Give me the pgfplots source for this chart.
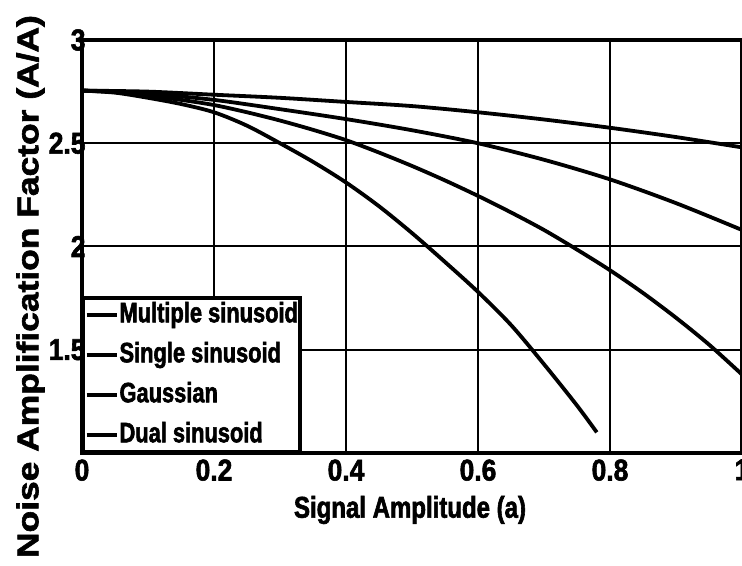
\documentclass[border=0pt]{standalone}
\usepackage{fontspec}
\usepackage{pgfplots}
\pgfplotsset{compat=1.18}
\setmainfont{Liberation Sans}
\newfontfamily\tickfont{Liberation Sans}[FakeStretch=0.88, FakeBold=2]
\newfontfamily\legfont{Liberation Sans}[FakeStretch=0.78, FakeBold=2]
\newfontfamily\xlabfont{Liberation Sans}[FakeStretch=0.8, FakeBold=2]
\newfontfamily\ylabfont{Liberation Sans}[FakeStretch=1.18, FakeBold=2]
\begin{document}
\begin{tikzpicture}
\path[use as bounding box] (-82bp,-113bp) rectangle (660bp,453bp);
\begin{axis}[
  scale only axis, width=660bp, height=413bp,
  at={(0,0)}, anchor=south west,
  xmin=0, xmax=1, ymin=1, ymax=3,
  xtick={0,0.2,0.4,0.6,0.8,1}, ytick={1.5,2,2.5,3},
  grid=major, major grid style={line width=2bp, black},
  axis line style={line width=3.5bp, black},
  major tick length=0pt,
  /pgf/number format/assume math mode=true,
  tick label style={font=\tickfont\bfseries\fontsize{30bp}{32bp}\selectfont},
  xticklabel style={yshift=-3bp},
  yticklabel style={xshift=7bp},
  xlabel={Signal Amplitude (a)},
  xlabel style={font=\xlabfont\bfseries\fontsize{30bp}{34bp}\selectfont, at={(axis description cs:0.497,-0.138)}, anchor=center},
  ylabel={Noise Amplification Factor (A/A)},
  ylabel style={font=\ylabfont\bfseries\fontsize{30bp}{34bp}\selectfont, at={(axis description cs:-0.078,0.403)}, anchor=center, rotate=0},
  legend style={at={(axis description cs:0,0)}, anchor=south west, draw=black, line width=3.5bp, fill=white,
    font=\legfont\bfseries\fontsize{28bp}{30bp}\selectfont, inner sep=1bp,
    nodes={inner sep=1bp, text height=22bp, text depth=7bp}, row sep=9bp, column sep=0bp},
  legend cell align=left,
  legend image code/.code={\draw[#1] (0bp,0bp) -- (30bp,0bp);},
]
\addplot[black, line width=3.8bp, smooth] coordinates {
(0,2.755) (0.1,2.75) (0.2,2.735) (0.3,2.72) (0.4,2.70) (0.5,2.68) (0.6,2.65) (0.7,2.615) (0.8,2.575) (0.9,2.53) (1.0,2.48)};
\addlegendentry{Multiple sinusoid}
\addplot[black, line width=3.8bp, smooth] coordinates {
(0,2.755) (0.1,2.74) (0.2,2.71) (0.3,2.665) (0.4,2.617) (0.5,2.563) (0.6,2.50) (0.7,2.42) (0.8,2.325) (0.9,2.21) (1.0,2.08)};
\addlegendentry{Single sinusoid}
\addplot[black, line width=3.8bp, smooth] coordinates {
(0,2.755) (0.05,2.75) (0.1,2.73) (0.15,2.71) (0.2,2.685) (0.25,2.65) (0.3,2.61) (0.35,2.565) (0.4,2.515) (0.45,2.455) (0.5,2.39) (0.55,2.32) (0.6,2.245) (0.65,2.165) (0.7,2.08) (0.75,1.985) (0.8,1.885) (0.85,1.775) (0.9,1.655) (0.95,1.525) (1.0,1.38)};
\addlegendentry{Gaussian}
\addplot[black, line width=3.8bp, smooth] coordinates {
(0,2.755) (0.05,2.745) (0.1,2.72) (0.15,2.69) (0.2,2.65) (0.25,2.585) (0.3,2.50) (0.35,2.41) (0.4,2.31) (0.45,2.195) (0.5,2.065) (0.55,1.925) (0.6,1.78) (0.65,1.62) (0.7,1.43) (0.75,1.23) (0.78,1.10)};
\addlegendentry{Dual sinusoid}
\end{axis}
\end{tikzpicture}
\end{document}
